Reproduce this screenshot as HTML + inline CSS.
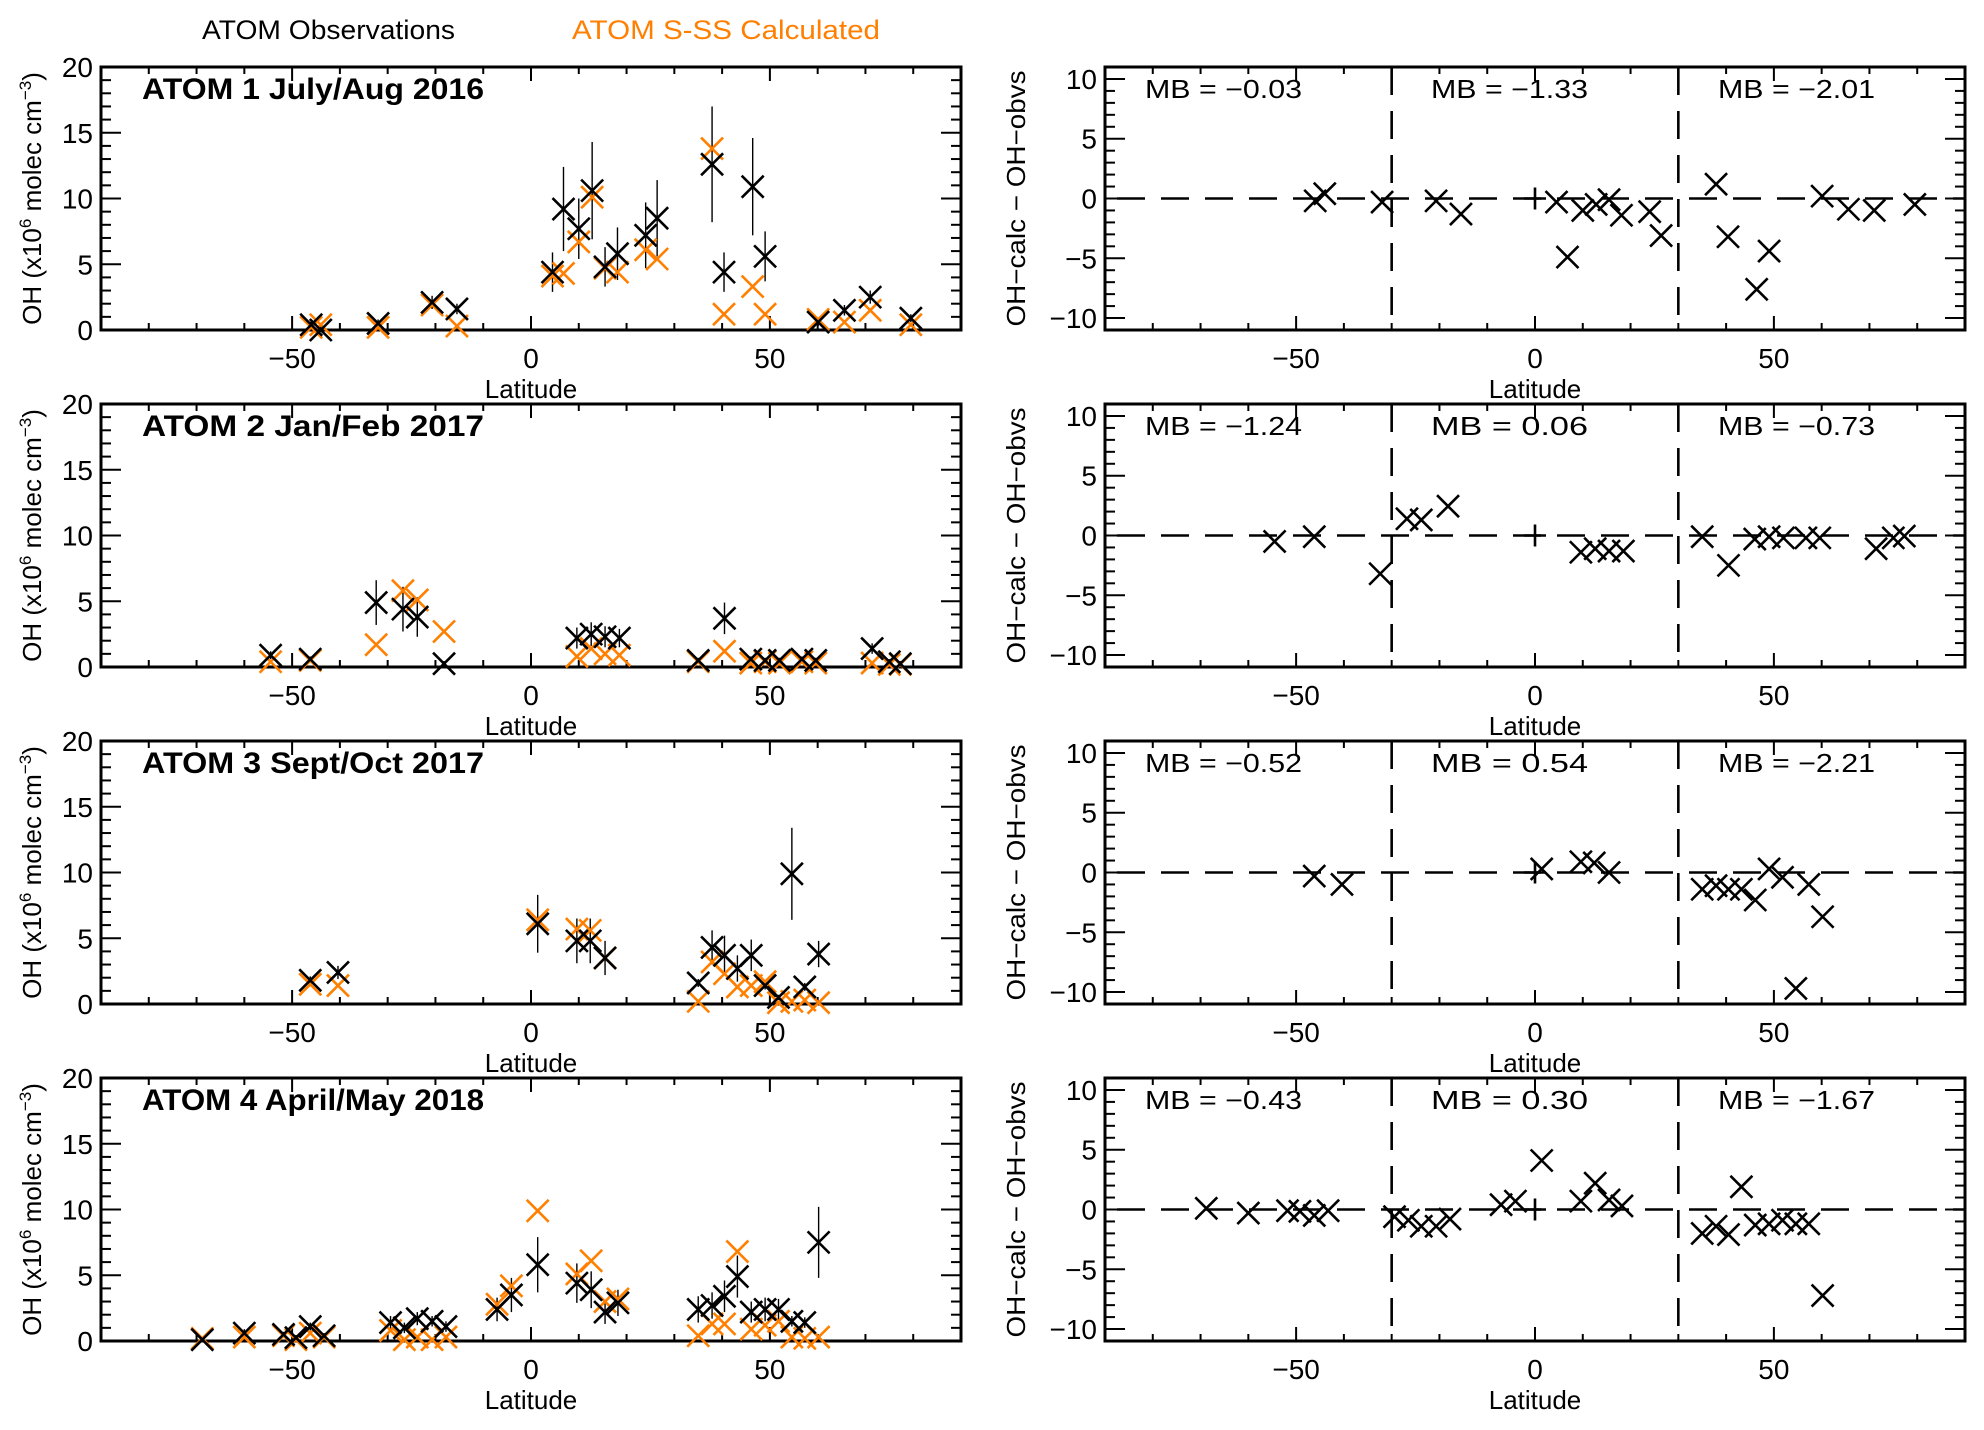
<!DOCTYPE html>
<html><head><meta charset="utf-8"><style>
html,body{margin:0;padding:0;background:#fff;}
svg text{font-family:"Liberation Sans Narrow","Liberation Sans",sans-serif;}
</style></head><body>
<svg id="fig" width="1984" height="1425" viewBox="0 0 1984 1425" xmlns="http://www.w3.org/2000/svg">
<rect width="1984" height="1425" fill="#fff"/>
<text x="202" y="39" font-size="27" textLength="253" lengthAdjust="spacingAndGlyphs" fill="#000">ATOM Observations</text>
<text x="572" y="39" font-size="27" textLength="308" lengthAdjust="spacingAndGlyphs" fill="#ff7f00">ATOM S-SS Calculated</text>
</svg>
<script>
const titles = ["ATOM 1 July/Aug 2016","ATOM 2 Jan/Feb 2017","ATOM 3 Sept/Oct 2017","ATOM 4 April/May 2018"];
const mbLabels = [["-0.03","-1.33","-2.01"],["-1.24","0.06","-0.73"],["-0.52","0.54","-2.21"],["-0.43","0.30","-1.67"]];
const lat1 = [-46,-44,-32,-20.7,-15.5,4.5,6.8,10,12.8,15.5,18.1,24,26.4,37.9,40.4,46.4,49,60.1,65.6,71,79.5];
const obs1 = [0.4,0.0,0.5,2.1,1.6,4.4,9.2,7.7,10.6,4.8,5.8,7.2,8.5,12.6,4.4,10.9,5.6,0.6,1.5,2.5,0.9];
const err1 = [0.3,0.3,0.3,0.5,0.4,1.5,3.2,2.3,3.7,1.5,2,2.5,2.9,4.4,1.5,3.7,1.9,0.3,0.4,0.5,0.3];
const calc1 = [0.2,0.4,0.2,1.9,0.3,4.1,4.3,6.7,10.1,4.7,4.4,6.1,5.4,13.8,1.2,3.3,1.2,0.8,0.6,1.5,0.4];
const lat2 = [-54.5,-46.2,-32.4,-26.8,-23.8,-18.2,9.6,12.6,15.5,18.5,35,40.5,46,49,52,56.7,59.6,71.4,75,77.3];
const obs2 = [0.9,0.6,4.9,4.4,3.8,0.25,2.2,2.5,2.3,2.2,0.5,3.7,0.6,0.5,0.5,0.6,0.5,1.4,0.4,0.25];
const err2 = [0.3,0.2,1.7,1.7,1.5,0.2,0.8,0.9,0.8,0.7,0.2,1.2,0.2,0.2,0.2,0.2,0.2,0.4,0.2,0.2];
const calc2 = [0.4,0.5,1.7,5.8,5.1,2.7,0.8,1.4,1.0,0.9,0.4,1.2,0.3,0.4,0.3,0.4,0.3,0.3,0.2,0.2];
const lat3 = [-46.2,-40.4,1.4,9.6,12.4,15.5,35,37.9,40.5,43.2,46.1,49,51.8,54.6,57.3,60.2];
const obs3 = [1.8,2.4,6.1,4.8,4.8,3.5,1.6,4.3,3.7,2.7,3.7,1.4,0.5,9.9,1.3,3.8];
const err3 = [0.3,0.5,2.2,1.7,1.7,1.3,0.3,1.3,1.5,1.0,1.2,0.3,0.2,3.5,0.3,1.0];
const calc3 = [1.5,1.4,6.4,5.7,5.6,3.5,0.2,3.2,2.3,1.3,1.4,1.7,0.1,0.2,0.3,0.1];
const lat4 = [-68.8,-60,-51.8,-49.2,-46.2,-43.3,-29.4,-26.5,-23.8,-20.7,-17.8,-7.1,-4.1,1.4,9.6,12.6,15.5,18.2,35,37.9,40.5,43.2,46.1,49,51.8,54.6,57.3,60.2];
const obs4 = [0.1,0.6,0.5,0.25,1.1,0.4,1.4,1.0,1.7,1.5,1.1,2.4,3.5,5.8,4.4,3.9,2.2,2.9,2.4,2.7,3.4,4.9,2.2,2.4,2.4,1.5,1.4,7.5];
const err4 = [0.2,0.3,0.2,0.2,0.3,0.2,0.5,0.4,0.5,0.4,0.4,0.9,1.3,2.1,1.5,1.4,0.9,1.0,1.0,1.0,1.2,1.6,0.8,0.9,0.8,0.4,0.4,2.7];
const calc4 = [0.2,0.3,0.4,0.1,0.6,0.3,0.8,0.1,0.3,0.1,0.3,2.8,4.2,9.9,5.1,6.1,3.0,3.2,0.4,1.3,1.3,6.8,0.9,1.2,1.5,0.3,0.2,0.3];
const xTicks = [-50,0,50];
const leftYTicks = [0,5,10,15,20];
const rightYTicks = [-10,-5,0,5,10];
const LATS=[lat1,lat2,lat3,lat4], OBS=[obs1,obs2,obs3,obs4], ERR=[err1,err2,err3,err4], CALC=[calc1,calc2,calc3,calc4];

const svg=document.getElementById('fig');
const NS='http://www.w3.org/2000/svg';
function mk(tag,attrs,parent){const e=document.createElementNS(NS,tag);for(const k in attrs)e.setAttribute(k,attrs[k]);(parent||svg).appendChild(e);return e;}
function line(x1,y1,x2,y2,st,w,p,dash){const e=mk('line',{x1:x1,y1:y1,x2:x2,y2:y2,stroke:st,'stroke-width':w},p);if(dash)e.setAttribute('stroke-dasharray',dash);return e;}
function cross(cx,cy,col,g){const h=11;
  const p=mk('path',{d:`M${cx-h},${cy-h}L${cx+h},${cy+h}M${cx-h},${cy+h}L${cx+h},${cy-h}`,stroke:col,'stroke-width':2.6,fill:'none'},g);return p;}

const rowTop=[67,404,741,1078], H=263, W=860;
const LX=101, RX=1105;

function axes(g,x0,y0,ymin,ymax,yt,xsc,ysc){
  for(let v=-90;v<=90;v+=10){const x=xsc(v);const L=(v%50===0)?14:7;
    line(x,y0+H,x,y0+H-L,'#000',2,g);line(x,y0,x,y0+L,'#000',2,g);}
  for(let v=Math.ceil(ymin);v<=ymax;v++){const y=ysc(v);const L=(v%5===0)?20:10;
    line(x0,y,x0+L,y,'#000',2,g);line(x0+W,y,x0+W-L,y,'#000',2,g);}
  mk('rect',{x:x0,y:y0,width:W,height:H,fill:'none',stroke:'#000','stroke-width':3},g);
  xTicks.forEach(v=>{const t=mk('text',{x:xsc(v),y:y0+H+38,'font-size':28,'text-anchor':'middle'},g);t.textContent=(v<0?'\u2212':'')+Math.abs(v);
    
    });
  yt.forEach(v=>{const t=mk('text',{x:x0-8,y:ysc(v)+10,'font-size':28,'text-anchor':'end'},g);t.textContent=(v<0?'\u2212':'')+Math.abs(v);
    
    });
  const xl=mk('text',{x:x0+W/2,y:y0+H+68,'font-size':26,'text-anchor':'middle'},g);xl.textContent='Latitude';
  
  
}

for(let r=0;r<4;r++){
  const y0=rowTop[r];
  const gl=mk('g',{});
  
  
  const xs=v=>LX+(v+90)/180*W, ys=v=>y0+H-(v-0)/20*H;
  axes(gl,LX,y0,0,20,leftYTicks,xs,ys);
  const tt=mk('text',{x:142,y:y0+32,'font-size':30,'font-weight':'bold','textLength':342,'lengthAdjust':'spacingAndGlyphs'},gl);tt.textContent=titles[r];
  
  
  const yl=mk('text',{x:0,y:0,'font-size':26,'text-anchor':'middle',transform:`translate(41,${y0+H/2}) rotate(-90)`},gl);
  yl.innerHTML='OH (x10<tspan dy="-10" font-size="17">6</tspan><tspan dy="10"> molec cm</tspan><tspan dy="-10" font-size="17">\u22123</tspan><tspan dy="10">)</tspan>';
  
  
  const la=LATS[r],ob=OBS[r],er=ERR[r],ca=CALC[r];
  for(let i=0;i<la.length;i++){const e=line(xs(la[i]),ys(ob[i]+er[i]),xs(la[i]),ys(Math.max(0,ob[i]-er[i])),'#000',1.4,gl);
    
    }
  for(let i=0;i<la.length;i++){const c=cross(xs(la[i]),ys(ca[i]),'#ff7f00',gl);
    
    }
  for(let i=0;i<la.length;i++){const c=cross(xs(la[i]),ys(ob[i]),'#000',gl);
    
    }
  const gr=mk('g',{});
  
  
  const xr=v=>RX+(v+90)/180*W, yr=v=>y0+H/2-v/22*H;
  axes(gr,RX,y0,-11,11,rightYTicks,xr,yr);
  const zl=line(xr(-90)+12,yr(0),xr(90),yr(0),'#000',2.6,gr,'28,16');
  
  
  [-30,30].forEach(v=>{const d=line(xr(v),y0,xr(v),y0+H,'#000',2.6,gr,'28,16');
    
    });
  const mbx=[1145,1431,1718];
  for(let k=0;k<3;k++){const t=mk('text',{x:mbx[k],y:y0+31,'font-size':26,'textLength':157,'lengthAdjust':'spacingAndGlyphs'},gr);t.textContent='MB = '+mbLabels[r][k].replace('-','\u2212');
    
    }
  const ry=mk('text',{x:0,y:0,'font-size':26,'text-anchor':'middle',transform:`translate(1025,${y0+H/2}) rotate(-90)`,'textLength':256,'lengthAdjust':'spacingAndGlyphs'},gr);ry.textContent='OH\u2212calc  \u2212  OH\u2212obvs';
  
  
  const pl=mk('path',{d:`M${xr(0)-11},${yr(0)}h22M${xr(0)},${yr(0)-11}v22`,stroke:'#000','stroke-width':2.6},gr);
  
  
  for(let i=0;i<la.length;i++){const c=cross(xr(la[i]),yr(ca[i]-ob[i]),'#000',gr);
    
    }
}
</script>
</body></html>
